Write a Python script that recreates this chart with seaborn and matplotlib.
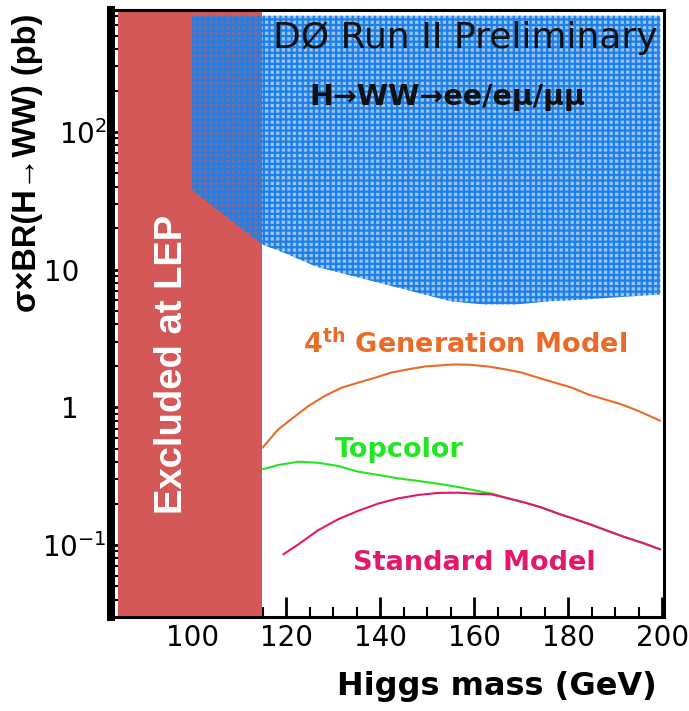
import numpy as np
import pandas as pd
import matplotlib
matplotlib.use("Agg")
import matplotlib.pyplot as plt
import seaborn as sns
from matplotlib import font_manager
from matplotlib.ticker import FixedLocator, MultipleLocator, NullFormatter

# ---------------- data ----------------
lep_excluded = [84.2, 114.8]                     # GeV range excluded at LEP

excl_mass = [100, 107.5, 115, 119.5, 126.5, 137, 148, 155, 162, 169, 176, 183, 190, 199.6]
excl_low = [38.0, 23.9, 15.2, 13.3, 10.5, 8.5, 6.8, 5.9, 5.6, 5.6, 5.9, 6.05, 6.3, 6.6]
excl_top = 700.0                                  # upper edge of the excluded band (pb)

gen4_mass = [115, 118.3, 121.1, 124.7, 128.2, 131.8, 135.3, 138.9, 142.4, 146, 149.5,
             153.8, 156, 159, 163, 166.6, 170.1, 173.7, 177.2, 180.8, 184.3, 187.9,
             191.4, 195, 199.6]
gen4_xsec = [0.51, 0.69, 0.82, 1.02, 1.21, 1.39, 1.51, 1.64, 1.79, 1.89, 1.98,
             2.03, 2.05, 2.04, 1.98, 1.89, 1.79, 1.64, 1.51, 1.39, 1.24, 1.14,
             1.05, 0.94, 0.80]

topc_mass = [115, 118.3, 122.6, 126.8, 131.1, 135.3, 139.6, 143.8, 148.1, 152.3, 156.6,
             160.2, 163.8, 167.3, 170.9, 174.4, 177.9, 181.5, 185, 188.6, 192.1, 195.7, 199.6]
topc_xsec = [0.355, 0.381, 0.403, 0.396, 0.375, 0.341, 0.323, 0.305, 0.292, 0.279, 0.264,
             0.249, 0.236, 0.218, 0.203, 0.187, 0.169, 0.154, 0.140, 0.126, 0.114, 0.104, 0.093]

sm_mass = [119.4, 122.6, 126.8, 131.1, 135.3, 139.6, 143.8, 148.1, 152.3, 156.6, 160.2,
           163.8, 167.3, 170.9, 174.4, 177.9, 181.5, 185, 188.6, 192.1, 195.7, 199.6]
sm_xsec = [0.0855, 0.101, 0.128, 0.154, 0.177, 0.200, 0.218, 0.231, 0.239, 0.240, 0.236,
           0.233, 0.218, 0.203, 0.187, 0.169, 0.154, 0.140, 0.126, 0.114, 0.104, 0.093]

x_ticks = [100, 120, 140, 160, 180, 200]
x_tick_labels = ["100", "120", "140", "160", "180", "200"]
y_ticks = [0.1, 1, 10, 100]
y_tick_labels = ["$10^{-1}$", "1\u2002\u2002", "10\u2002\u2002", "$10^{2}$"]

title_text = "DØ Run II Preliminary"
channel_text = "H\u2192WW\u2192ee/eμ/μμ"
lep_text = "Excluded at LEP"
gen4_text = "4$^{\\mathbf{th}}$ Generation Model"
topc_text = "Topcolor"
sm_text = "Standard Model"
x_label = "Higgs mass (GeV)"
y_label = "σ×BR(H\u2192WW) (pb)"

# ---------------- style ----------------
sns.set_style("ticks")
plt.rcParams["font.family"] = ["DejaVu Sans"]
plt.rcParams["mathtext.fontset"] = "dejavusans"
plt.rcParams["hatch.linewidth"] = 1.6
plt.rcParams["text.color"] = "black"
plt.rcParams["axes.labelcolor"] = "black"
plt.rcParams["xtick.color"] = "black"
plt.rcParams["ytick.color"] = "black"

def has_font(name):
    try:
        font_manager.findfont(font_manager.FontProperties(family=name),
                              fallback_to_default=False)
        return True
    except Exception:
        return False

if has_font("Liberation Sans Narrow"):
    narrow = ["Liberation Sans Narrow", "DejaVu Sans"]
    lep_size, ylab_size = 33, 28.5
elif has_font("Liberation Sans"):
    narrow = ["Liberation Sans", "DejaVu Sans"]
    lep_size, ylab_size = 27.5, 23.5
else:
    narrow = ["DejaVu Sans"]
    lep_size, ylab_size = 25, 21

RED = "#D45858"
BLUE = "#1E80E6"
ORANGE = "#E96B28"
GREEN = "#22E622"
PINK = "#E4186A"

W, H = 689, 711
fig = plt.figure(figsize=(W / 100, H / 100), dpi=100)
ax = fig.add_axes([115 / W, 94 / H, 549 / W, 607 / H])

ax.set_yscale("log")
ax.set_xlim(83.6, 200.4)
ax.set_ylim(0.030, 770)

# LEP exclusion
ax.axvspan(lep_excluded[0], lep_excluded[1], color=RED, lw=0, zorder=1)

# DØ exclusion band (meshed blue)
ax.fill_between(excl_mass, excl_low, excl_top,
                facecolor=(30 / 255, 128 / 255, 230 / 255, 0.46),
                edgecolor=BLUE, hatch="+++", linewidth=0, zorder=2)

# model curves
sns.lineplot(x=gen4_mass, y=gen4_xsec, ax=ax, color=ORANGE, lw=1.5, zorder=3)
sns.lineplot(x=topc_mass, y=topc_xsec, ax=ax, color=GREEN, lw=1.5, zorder=3)
sns.lineplot(x=sm_mass, y=sm_xsec, ax=ax, color=PINK, lw=1.5, zorder=4)

# ticks
ax.xaxis.set_major_locator(FixedLocator(x_ticks))
ax.set_xticklabels(x_tick_labels)
ax.xaxis.set_minor_locator(MultipleLocator(5))
ax.yaxis.set_major_locator(FixedLocator(y_ticks))
ax.set_yticklabels(y_tick_labels)
ax.yaxis.set_minor_formatter(NullFormatter())

ax.tick_params(axis="x", which="major", direction="in", length=14.4, width=2.0,
               labelsize=20, pad=5, top=False, color="black", labelcolor="black")
ax.tick_params(axis="x", which="minor", direction="in", length=7.2, width=1.5,
               top=False, color="black")
ax.tick_params(axis="y", which="major", direction="in", length=13.7, width=2.0,
               labelsize=20, pad=3, right=False, color="black", labelcolor="black")
ax.tick_params(axis="y", which="minor", direction="in", length=8, width=1.5,
               right=False, color="black")

for side in ["top", "right", "bottom"]:
    ax.spines[side].set_linewidth(2.2)
    ax.spines[side].set_color("black")
ax.spines["left"].set_linewidth(5.8)
ax.spines["left"].set_color("black")
ax.spines["left"].set_position(("outward", 2.9))
for s in ax.spines.values():
    s.set_zorder(6)

# axis labels
ax.set_xlabel(x_label, fontsize=23, fontweight="bold", ha="right", va="baseline",
              color="black")
ax.xaxis.set_label_coords(0.987, -0.1285)
ax.set_ylabel(y_label, fontsize=ylab_size, fontweight="bold",
              family=narrow, ha="center", va="center", color="black")
ax.yaxis.set_label_coords(-0.160, 0.748)

# annotations
tr = ax.transAxes
ax.text(0.639, 0.9374, title_text, transform=tr, fontsize=26, ha="center",
        va="baseline", color="#111111", zorder=7)
ax.text(0.605, 0.8435, channel_text, transform=tr, fontsize=20.5, fontweight="bold",
        ha="center", va="baseline", color="#111111", zorder=7)
ax.text(0.1038, 0.4168, lep_text, transform=tr, fontsize=lep_size, fontweight="bold",
        family=narrow, rotation=90, ha="center", va="center", color="white", zorder=7)
ax.text(0.6375, 0.4349, gen4_text, transform=tr, fontsize=19.5, fontweight="bold",
        ha="center", va="baseline", color=ORANGE, zorder=7)
ax.text(0.518, 0.2636, topc_text, transform=tr, fontsize=19.5, fontweight="bold",
        ha="center", va="baseline", color=GREEN, zorder=7)
ax.text(0.654, 0.0774, sm_text, transform=tr, fontsize=19.5, fontweight="bold",
        ha="center", va="baseline", color=PINK, zorder=7)

fig.savefig("out.png", dpi=100)
